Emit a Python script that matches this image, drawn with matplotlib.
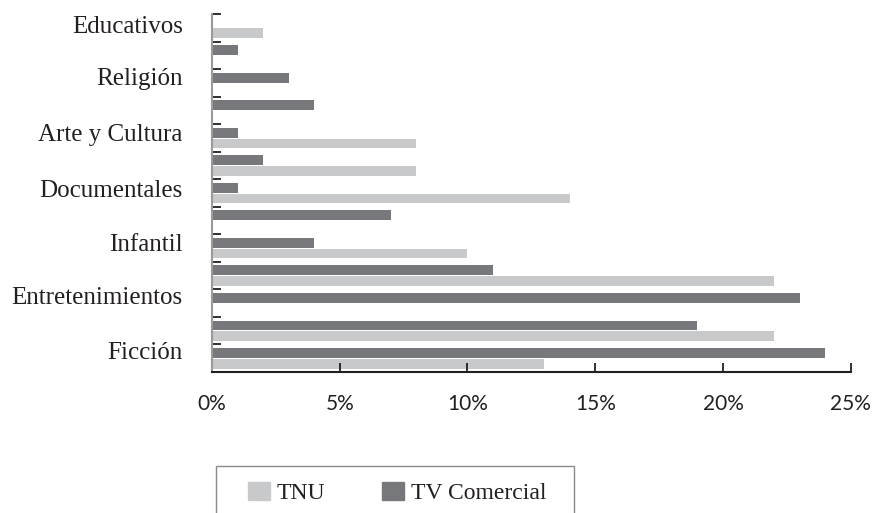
import numpy as np
import matplotlib
matplotlib.use('Agg')
from matplotlib import pyplot as plt
from matplotlib.patches import Rectangle

# 13 bandas (de arriba hacia abajo), tal como aparecen en el grafico
tnu = [2, 0, 0, 0, 8, 8, 14, 0, 10, 22, 0, 22, 13]
comercial = [0, 1, 3, 4, 1, 2, 1, 7, 4, 11, 23, 19, 24]

categorias = ['Educativos', 'Religión', 'Arte y Cultura', 'Documentales',
              'Infantil', 'Entretenimientos', 'Ficción']
pos_etiquetas = [0.38, 2.27, 4.32, 6.33, 8.28, 10.21, 12.21]
xticks = [0, 5, 10, 15, 20, 25]

c_tnu = '#c8c9cb'
c_com = '#77787c'
txt = '#231f20'

fig = plt.figure(figsize=(8.74, 5.13), dpi=100)
ax = fig.add_axes([212/874, 1-372/513, (850.7-212)/874, (372-14)/513])

bandas = np.arange(len(tnu))
ax.barh(bandas + 0.31, comercial, height=0.36, color=c_com)
ax.barh(bandas + 0.70, tnu, height=0.35, color=c_tnu)

ax.set_ylim(13, 0)
ax.set_xlim(0, 25)

ax.set_yticks(np.arange(0, 14))
ax.set_yticklabels([])
ax.set_yticks(pos_etiquetas, minor=True)
ax.set_yticklabels(categorias, minor=True, family='Liberation Serif',
                   fontsize=18, color=txt)
ax.tick_params(axis='y', which='major', direction='in', length=6.5,
               width=1.3, color=txt)
ax.tick_params(axis='y', which='minor', length=0, pad=21)

ax.set_xticks(xticks)
ax.set_xticklabels(['%d%%' % v for v in xticks], family='Lato',
                   fontsize=15, color=txt)
ax.tick_params(axis='x', direction='in', length=6.5, width=1.3,
               color=txt, pad=16)

for s in ['top', 'right']:
    ax.spines[s].set_visible(False)
ax.spines['left'].set_color('#9a9a9a')
ax.spines['left'].set_linewidth(1.5)
ax.spines['bottom'].set_color(txt)
ax.spines['bottom'].set_linewidth(1.5)

# leyenda (el recuadro queda cortado por el borde inferior)
fig.patches.append(Rectangle((215.7/874, -0.05), (574-215.7)/874,
                             1-466/513+0.05, transform=fig.transFigure,
                             fill=False, edgecolor='#8a8a8a', linewidth=1))
h1 = Rectangle((0, 0), 1, 1, color=c_tnu)
h2 = Rectangle((0, 0), 1, 1, color=c_com)
fig.legend([h1, h2], ['TNU', 'TV Comercial'], loc='center left',
           bbox_to_anchor=(248/874, 1-493/513), ncol=2, frameon=False,
           prop={'family': 'Liberation Serif', 'size': 17},
           handlelength=0.93, handleheight=0.8, handletextpad=0.3,
           columnspacing=2.4, borderpad=0, borderaxespad=0,
           labelcolor=txt)

fig.savefig('out.png', dpi=100)
